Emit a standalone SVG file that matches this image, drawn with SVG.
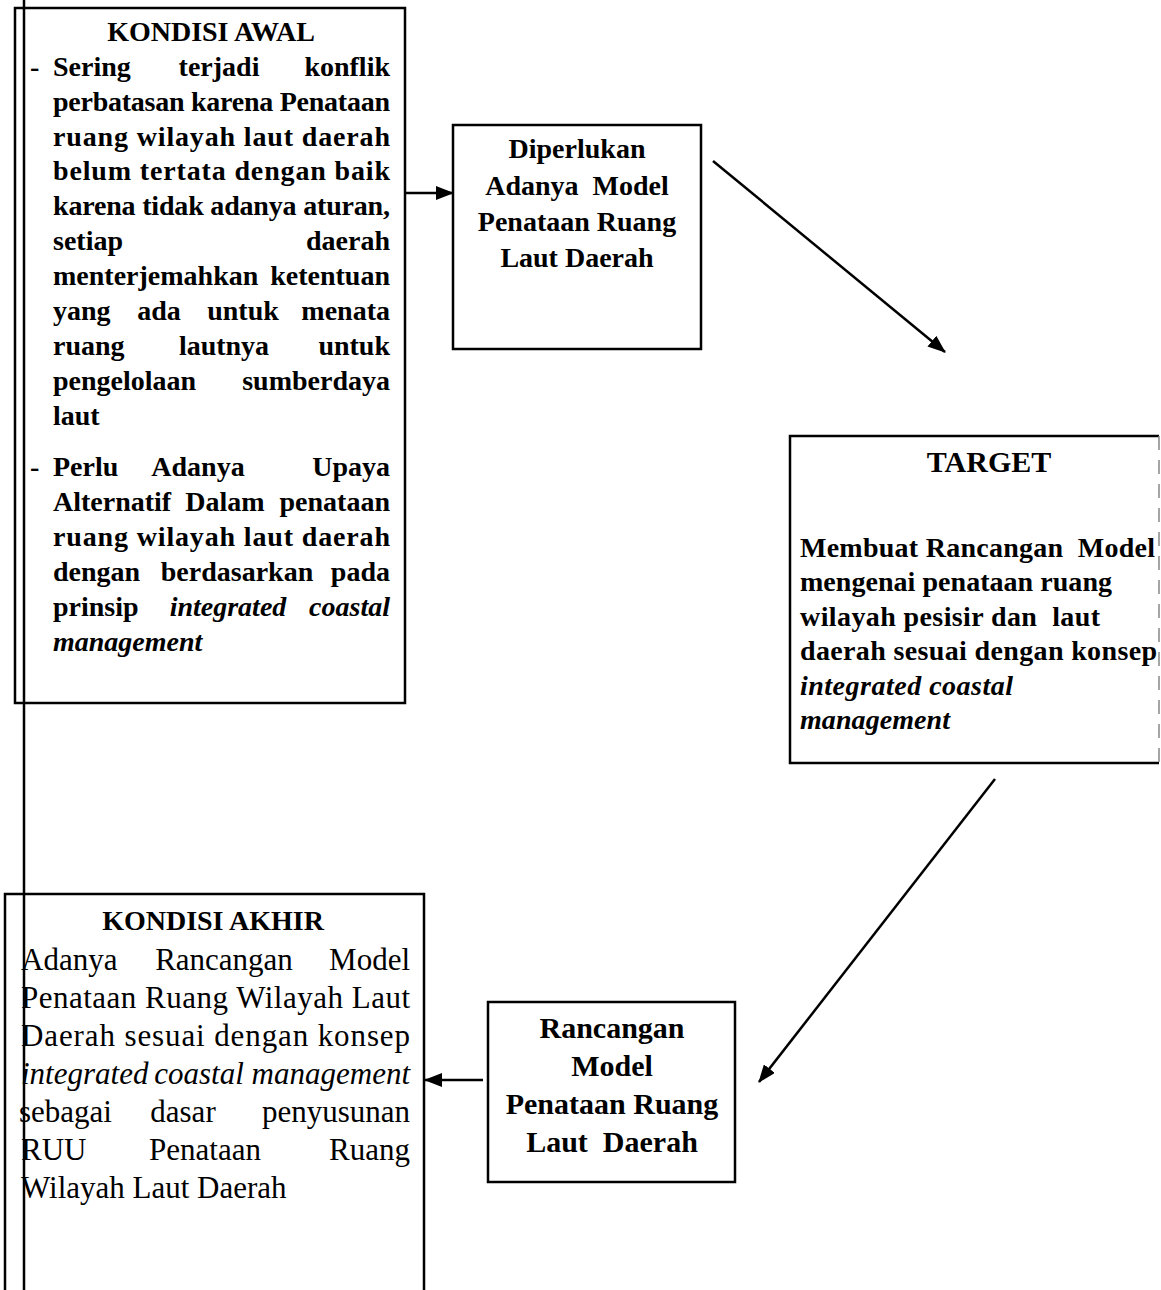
<svg xmlns="http://www.w3.org/2000/svg" width="1161" height="1290" viewBox="0 0 1161 1290">
<defs>
<style>
.box{fill:none;stroke:#000;stroke-width:2.5}
.ln{fill:none;stroke:#000;stroke-width:2.5}
.t{font-family:"Liberation Serif","Times New Roman",serif;fill:#000}
.b{font-weight:bold}
.i{font-style:italic}
.s28{font-size:28px}
.s30{font-size:30px}
.s31{font-size:31px}
.m{text-anchor:middle}
.e{text-anchor:end}
</style>
<marker id="ah" markerUnits="userSpaceOnUse" markerWidth="18" markerHeight="14" refX="17" refY="7" orient="auto">
<path d="M0,0 L18,7 L0,14 z" fill="#000"/>
</marker>
</defs>
<rect width="1161" height="1290" fill="#fff"/>

<g id="kondisi-awal">
<rect class="box" x="15" y="8" width="390" height="695"/>
<text class="t b s28 m" x="211" y="41">KONDISI AWAL</text>
<text class="t b s28" x="30" y="76">-</text>
<text class="t b s28" y="76"><tspan x="53">Sering</tspan><tspan class="m" x="219">terjadi</tspan><tspan class="e" x="390">konflik</tspan></text>
<text class="t b s28" x="53" y="111" textLength="337" lengthAdjust="spacing">perbatasan karena Penataan</text>
<text class="t b s28" x="53" y="146" textLength="337" lengthAdjust="spacing">ruang wilayah laut daerah</text>
<text class="t b s28" x="53" y="180" textLength="337" lengthAdjust="spacing">belum tertata dengan baik</text>
<text class="t b s28" x="53" y="215" textLength="337" lengthAdjust="spacing">karena tidak adanya aturan,</text>
<text class="t b s28" y="250"><tspan x="53">setiap</tspan><tspan class="e" x="390">daerah</tspan></text>
<text class="t b s28" y="285"><tspan x="53">menterjemahkan</tspan><tspan class="e" x="390">ketentuan</tspan></text>
<text class="t b s28" y="320"><tspan x="53">yang</tspan><tspan class="m" x="159">ada</tspan><tspan class="m" x="243">untuk</tspan><tspan class="e" x="390">menata</tspan></text>
<text class="t b s28" y="355"><tspan x="53">ruang</tspan><tspan class="m" x="224">lautnya</tspan><tspan class="e" x="390">untuk</tspan></text>
<text class="t b s28" y="390"><tspan x="53">pengelolaan</tspan><tspan class="e" x="390">sumberdaya</tspan></text>
<text class="t b s28" x="53" y="425">laut</text>
<text class="t b s28" x="30" y="476">-</text>
<text class="t b s28" y="476"><tspan x="53">Perlu</tspan><tspan class="m" x="198">Adanya</tspan><tspan class="e" x="390">Upaya</tspan></text>
<text class="t b s28" y="511"><tspan x="53">Alternatif</tspan><tspan class="m" x="225">Dalam</tspan><tspan class="e" x="390">penataan</tspan></text>
<text class="t b s28" x="53" y="546" textLength="337" lengthAdjust="spacing">ruang wilayah laut daerah</text>
<text class="t b s28" y="581"><tspan x="53">dengan</tspan><tspan class="m" x="237">berdasarkan</tspan><tspan class="e" x="390">pada</tspan></text>
<text class="t b s28" y="616"><tspan x="53">prinsip</tspan><tspan class="i m" x="228">integrated</tspan><tspan class="i e" x="390">coastal</tspan></text>
<text class="t b i s28" x="53" y="651">management</text>
</g>

<g id="diperlukan">
<rect class="box" x="453" y="125" width="248" height="224"/>
<text class="t b s28 m" x="577" y="158">Diperlukan</text>
<text class="t b s28 m" x="577" y="195" xml:space="preserve">Adanya  Model</text>
<text class="t b s28 m" x="577" y="231">Penataan Ruang</text>
<text class="t b s28 m" x="577" y="267">Laut Daerah</text>
</g>

<g id="target">
<path class="box" d="M1159,436 L790,436 L790,763 L1159,763"/>
<line x1="1159" y1="436" x2="1159" y2="763" stroke="#888" stroke-width="1.5" stroke-dasharray="14,10"/>
<text class="t b s30 m" x="989" y="472">TARGET</text>
<text class="t b s28" x="800" y="557" textLength="355" lengthAdjust="spacing" xml:space="preserve">Membuat Rancangan  Model</text>
<text class="t b s28" x="800" y="591" textLength="312" lengthAdjust="spacing">mengenai penataan ruang</text>
<text class="t b s28" x="800" y="626" textLength="300" lengthAdjust="spacing" xml:space="preserve">wilayah pesisir dan  laut</text>
<text class="t b s28" x="800" y="660" textLength="357" lengthAdjust="spacing">daerah sesuai dengan konsep</text>
<text class="t b i s28" x="800" y="695" textLength="213" lengthAdjust="spacing">integrated coastal</text>
<text class="t b i s28" x="800" y="729" textLength="150" lengthAdjust="spacing">management</text>
</g>

<g id="rancangan">
<rect class="box" x="488" y="1002" width="247" height="180"/>
<text class="t b s30 m" x="612" y="1038">Rancangan</text>
<text class="t b s30 m" x="612" y="1076">Model</text>
<text class="t b s30 m" x="612" y="1114">Penataan Ruang</text>
<text class="t b s30 m" x="612" y="1152" xml:space="preserve">Laut  Daerah</text>
</g>

<g id="kondisi-akhir">
<rect class="box" x="5" y="894" width="419" height="420"/>
<text class="t b s28 m" x="213" y="930">KONDISI AKHIR</text>
<text class="t s31" y="970"><tspan x="21">Adanya</tspan><tspan class="m" x="224">Rancangan</tspan><tspan class="e" x="410">Model</tspan></text>
<text class="t s31" x="21" y="1008" textLength="389" lengthAdjust="spacing">Penataan Ruang Wilayah Laut</text>
<text class="t s31" x="21" y="1046" textLength="389" lengthAdjust="spacing">Daerah sesuai dengan konsep</text>
<text class="t s31 i" y="1084"><tspan x="21">integrated</tspan><tspan class="m" x="199">coastal</tspan><tspan class="e" x="410">management</tspan></text>
<text class="t s31" y="1122"><tspan x="19">sebagai</tspan><tspan class="m" x="183">dasar</tspan><tspan class="e" x="410">penyusunan</tspan></text>
<text class="t s31" y="1160"><tspan x="21">RUU</tspan><tspan class="m" x="205">Penataan</tspan><tspan class="e" x="410">Ruang</tspan></text>
<text class="t s31" x="21" y="1198">Wilayah Laut Daerah</text>
</g>

<g id="connectors">
<line class="ln" x1="24" y1="0" x2="24" y2="1290"/>
<line class="ln" x1="405" y1="193" x2="453" y2="193" marker-end="url(#ah)"/>
<line class="ln" x1="713" y1="161" x2="945" y2="352" marker-end="url(#ah)"/>
<line class="ln" x1="995" y1="779" x2="759" y2="1082" marker-end="url(#ah)"/>
<line class="ln" x1="483" y1="1080" x2="425" y2="1080" marker-end="url(#ah)"/>
</g>
</svg>
